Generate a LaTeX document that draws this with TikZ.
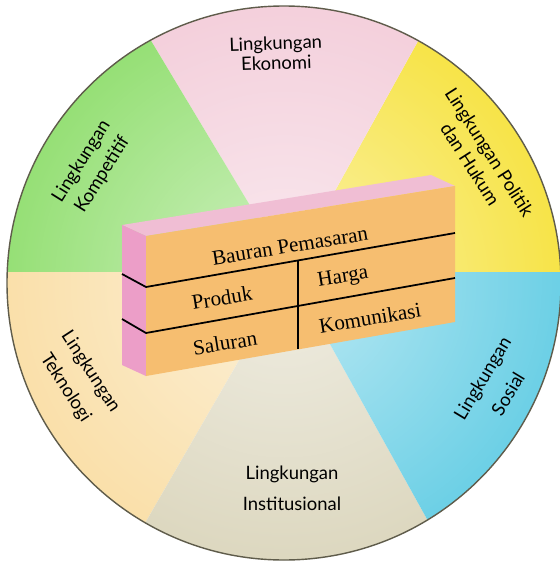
\documentclass[tikz,border=0pt]{standalone}
\usepackage{fontspec}
\setmainfont{Liberation Serif}
\setsansfont{Lato}
\usetikzlibrary{fadings}

\definecolor{secyellow}{RGB}{247,228,72}
\definecolor{secpink}{RGB}{244,208,220}
\definecolor{secgreen}{RGB}{150,224,118}
\definecolor{secbeige}{RGB}{250,224,170}
\definecolor{secgray}{RGB}{221,216,192}
\definecolor{seccyan}{RGB}{108,208,230}
\definecolor{rimcolor}{RGB}{95,92,75}
\definecolor{boxfront}{RGB}{246,190,112}
\definecolor{boxtop}{RGB}{240,190,212}
\definecolor{boxside}{RGB}{236,158,200}

\tikzfading[name=centerglow, inner color=transparent!45, outer color=transparent!100]

\begin{document}
\begin{tikzpicture}[x=0.02cm, y=-0.02cm,
  envlabel/.style={font=\sffamily\fontsize{10.5}{#1}\selectfont, align=center, inner sep=0pt},
  boxtext/.style={font=\fontsize{12}{14}\selectfont, rotate=9.2, inner sep=0pt},
  boxline/.style={line width=1pt, black}]

  \useasboundingbox (0,0) rectangle (559,565);

  % the wheel of environments
  \coordinate (o) at (284,283);     % centre of the circle
  \coordinate (apex) at (290,272);  % meeting point of the sectors

  \begin{scope}
    \clip (o) circle[radius=277];
    \foreach \a/\b/\col in {0/61/secyellow, 61/121/secpink, 121/180/secgreen,
                            180/240/secbeige, 240/299/secgray, 299/360/seccyan}{
      \fill[\col] (apex) -- ({290+600*cos(\a)},{272-600*sin(\a)})
        -- ({290+600*cos((\a+\b)/2)},{272-600*sin((\a+\b)/2)})
        -- ({290+600*cos(\b)},{272-600*sin(\b)}) -- cycle;
    }
  \end{scope}
  \fill[white, path fading=centerglow] (o) circle[radius=277];
  \draw[rimcolor, line width=0.8pt] (o) circle[radius=277];

  % labels of the sectors
  \node[envlabel=11.3pt, rotate=2] (ekonomi) at (276,53) {Lingkungan\\Ekonomi};
  \node[envlabel=13pt, rotate=-57.5] (politik) at (480,158) {Lingkungan Politik\\dan Hukum};
  \node[envlabel=14pt, rotate=58] (kompetitif) at (92,168) {Lingkungan\\Kompetitif};
  \node[envlabel=17pt, rotate=-57] (teknologi) at (78,380) {Lingkungan\\Teknologi};
  \node[envlabel=17pt, rotate=59] (sosial) at (495,386) {Lingkungan\\Sosial};
  \node[envlabel=17.5pt] (institusional) at (292,488) {Lingkungan\\Institusional};

  % the block in the middle
  \coordinate (ftl) at (146,236);
  \coordinate (ftr) at (455,186);
  \coordinate (fbr) at (455,322);
  \coordinate (fbl) at (146,376);
  \coordinate (btl) at (122,225);
  \coordinate (btr) at (431,175);
  \coordinate (bbl) at (122,365);

  \fill[boxtop] (btl) -- (btr) -- (ftr) -- (ftl) -- cycle;
  \fill[boxside] (btl) -- (ftl) -- (fbl) -- (bbl) -- cycle;
  \fill[boxfront] (ftl) -- (ftr) -- (fbr) -- (fbl) -- cycle;

  % rows and the divider
  \coordinate (r1a) at (122,274);
  \coordinate (r1b) at (146,287);
  \coordinate (r1c) at (455,233);
  \coordinate (r2a) at (122,319);
  \coordinate (r2b) at (146,333);
  \coordinate (r2c) at (455,278);
  \coordinate (d1) at (298,260);
  \coordinate (d2) at (298,349);
  \draw[boxline] (r1a) -- (r1b) -- (r1c);
  \draw[boxline] (r2a) -- (r2b) -- (r2c);
  \draw[boxline] (d1) -- (d2);

  \node[boxtext] (bauran) at (290,246) {Bauran Pemasaran};
  \node[boxtext] (produk) at (222,298) {Produk};
  \node[boxtext] (harga) at (343,278) {Harga};
  \node[boxtext] (saluran) at (225,343) {Saluran};
  \node[boxtext] (komunikasi) at (370,318) {Komunikasi};

\end{tikzpicture}
\end{document}
